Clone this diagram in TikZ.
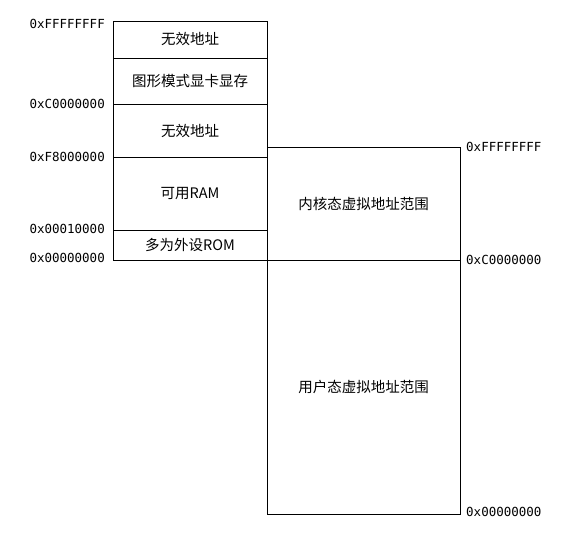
\documentclass[tikz,border=0pt]{standalone}
\usepackage{fontspec}
\setmainfont{Noto Sans CJK SC}
\newfontfamily\addrfont{DejaVu Sans Mono}
\usetikzlibrary{positioning}

\begin{document}
\begin{tikzpicture}[x=1pt, y=-1pt,
    memcell/.style={rectangle, draw=black, line width=0.8pt, outer sep=0pt, minimum width=154pt, font=\fontsize{14.5}{16}\selectfont},
    virtcell/.style={rectangle, draw=black, line width=0.8pt, outer sep=0pt, minimum width=193pt, font=\fontsize{14.5}{16}\selectfont},
    addr/.style={inner sep=0pt, font=\addrfont\fontsize{12.5}{14}\selectfont}
]
\useasboundingbox (0,0) rectangle (574,539);

% physical memory
\node[memcell, minimum height=37pt](mem_1) at (190,39.5){无效地址};
\node[memcell, minimum height=46pt](mem_2)[below = 0pt of mem_1]{图形模式显卡显存};
\node[memcell, minimum height=53pt](mem_3)[below = 0pt of mem_2]{无效地址};
\node[memcell, minimum height=73pt](mem_4)[below = 0pt of mem_3]{可用RAM};
\node[memcell, minimum height=30pt](mem_5)[below = 0pt of mem_4]{多为外设ROM};

% virtual address space
\node[virtcell, minimum height=254pt](virt_2)[right = 0pt of mem_5.south east, anchor=north west]{用户态虚拟地址范围};
\node[virtcell, minimum height=113pt](virt_1)[above = 0pt of virt_2]{内核态虚拟地址范围};

\node[addr][left = 8pt of mem_1.north west, yshift=-3pt]{0xFFFFFFFF};
\node[addr][left = 8pt of mem_2.south west]{0xC0000000};
\node[addr][left = 8pt of mem_3.south west]{0xF8000000};
\node[addr][left = 8pt of mem_4.south west, yshift=1pt]{0x00010000};
\node[addr][left = 8pt of mem_5.south west, yshift=2pt]{0x00000000};

\node[addr][right = 6pt of virt_1.north east]{0xFFFFFFFF};
\node[addr][right = 6pt of virt_1.south east]{0xC0000000};
\node[addr][right = 6pt of virt_2.south east, yshift=2pt]{0x00000000};
\end{tikzpicture}
\end{document}
